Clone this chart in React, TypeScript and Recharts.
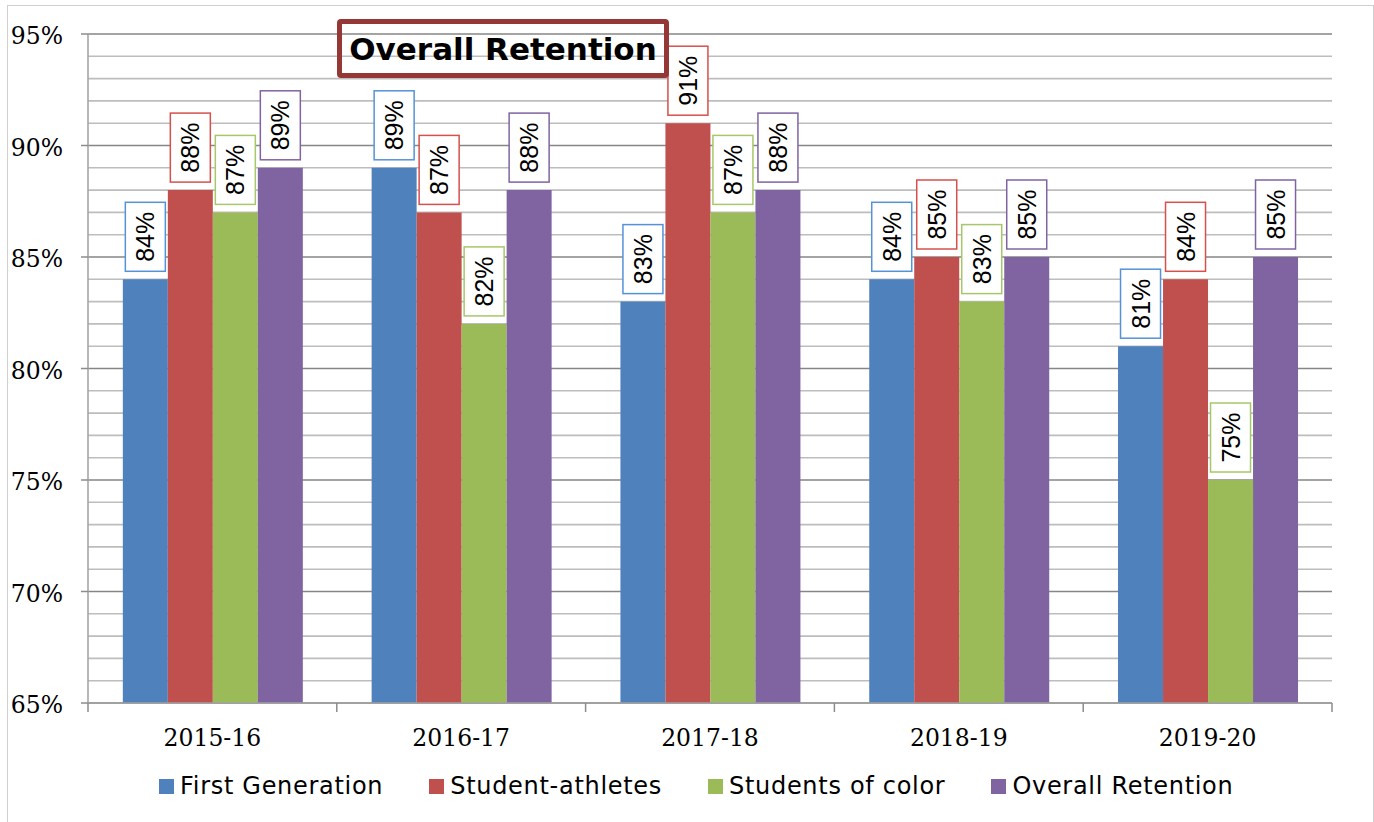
import React from "react";
import { BarChart, Bar, XAxis, YAxis, CartesianGrid, LabelList } from "recharts";

const categories = ["2015-16", "2016-17", "2017-18", "2018-19", "2019-20"];
const firstGeneration = [84, 89, 83, 84, 81];
const studentAthletes = [88, 87, 91, 85, 84];
const studentsOfColor = [87, 82, 87, 83, 75];
const overallRetention = [89, 88, 88, 85, 85];
const majorTicks = [65, 70, 75, 80, 85, 90, 95];
const allTicks = [65, 66, 67, 68, 69, 70, 71, 72, 73, 74, 75, 76, 77, 78, 79, 80, 81, 82, 83, 84, 85, 86, 87, 88, 89, 90, 91, 92, 93, 94, 95];

const seriesDefs = [
  { key: "fg", name: "First Generation", values: firstGeneration, color: "#4F81BD", box: "#5592D8" },
  { key: "sa", name: "Student-athletes", values: studentAthletes, color: "#C0504D", box: "#D6504C" },
  { key: "sc", name: "Students of color", values: studentsOfColor, color: "#9BBB59", box: "#A6C86A" },
  { key: "or", name: "Overall Retention", values: overallRetention, color: "#8064A2", box: "#8064A2" },
];

const data = categories.map((c, i) => {
  const row: any = { cat: c };
  seriesDefs.forEach((s) => (row[s.key] = s.values[i]));
  return row;
});

const W = 1374;
const H = 822;
const M = { top: 34, right: 42, left: 8, bottom: 59 };
const YW = 80;
const BAND = (W - M.left - YW - M.right) / categories.length;

const XTick = (props: any) => {
  const { x, y, payload, index } = props;
  const half = BAND / 2;
  return (
    <g>
      <line x1={x - half} x2={x - half} y1={y} y2={y + 9} stroke="#8C8C8C" strokeWidth={1.5} />
      {index === categories.length - 1 && (
        <line x1={x + half} x2={x + half} y1={y} y2={y + 9} stroke="#8C8C8C" strokeWidth={1.5} />
      )}
      <text x={x} y={y + 43} textAnchor="middle" fontFamily="DejaVu Serif" fontSize={23.5} fill="#000">
        {payload.value}
      </text>
    </g>
  );
};

const YTick = (props: any) => {
  const { x, y, payload } = props;
  const v = Number(payload.value);
  if (!majorTicks.includes(v)) return <g />;
  return (
    <g>
      <line x1={x - 7} x2={x} y1={y} y2={y} stroke="#8C8C8C" strokeWidth={1.5} />
      <text x={x - 25} y={y + 2} textAnchor="end" dominantBaseline="central" fontFamily="DejaVu Serif" fontSize={23.5} fill="#000">
        {v}%
      </text>
    </g>
  );
};

const GridLine = (props: any) => {
  const { x1, x2, y1, y2, index } = props;
  const major = index % 5 === 0;
  return (
    <line
      x1={x1}
      x2={x2}
      y1={y1}
      y2={y2}
      stroke={major ? "#868686" : "#BDBDBD"}
      strokeWidth={1.6}
    />
  );
};

const makeLabel = (stroke: string) => (props: any) => {
  const { x, y, width, value } = props;
  const cx = Number(x) + Number(width) / 2;
  const bw = 40;
  const bh = 69;
  const top = Number(y) - 8 - bh;
  const cy = top + bh / 2;
  return (
    <g>
      <rect x={cx - bw / 2} y={top} width={bw} height={bh} fill="#fff" stroke={stroke} strokeWidth={1.5} />
      <text
        x={cx}
        y={cy}
        transform={`rotate(-90, ${cx}, ${cy})`}
        textAnchor="middle"
        dominantBaseline="central"
        fontFamily="Liberation Sans"
        fontSize={25}
        fill="#000"
      >
        {value}%
      </text>
    </g>
  );
};

export default function App() {
  return (
    <div style={{ position: "absolute", left: 0, top: 0, width: W, height: H, background: "#fff", overflow: "hidden" }}>
      <div
        style={{
          position: "absolute",
          left: 7,
          top: 5,
          width: 1367,
          height: H + 20,
          borderLeft: "1px solid #D0D0D0",
          borderTop: "1px solid #D0D0D0",
          borderRight: "1px solid #D0D0D0",
          boxSizing: "border-box",
        }}
      />
      <BarChart width={W} height={H} data={data} margin={M} barCategoryGap="14%" barGap={0}>
        <CartesianGrid vertical={false} horizontal={(p: any) => <GridLine {...p} />} />
        <XAxis
          dataKey="cat"
          height={60}
          tickLine={false}
          tickSize={0}
          tickMargin={0}
          axisLine={{ stroke: "#A0A0A0", strokeWidth: 1.5 }}
          tick={<XTick />}
          interval={0}
        />
        <YAxis
          type="number"
          domain={[65, 95]}
          ticks={allTicks}
          width={YW}
          tickSize={0}
          tickMargin={0}
          tickLine={false}
          axisLine={{ stroke: "#A0A0A0", strokeWidth: 1.5 }}
          tick={<YTick />}
          interval={0}
        />
        {seriesDefs.map((s) => (
          <Bar key={s.key} dataKey={s.key} name={s.name} fill={s.color} isAnimationActive={false}>
            <LabelList dataKey={s.key} content={makeLabel(s.box)} />
          </Bar>
        ))}
      </BarChart>
      <div
        style={{
          position: "absolute",
          left: 337,
          top: 19,
          width: 332,
          height: 59,
          boxSizing: "border-box",
          border: "5px solid #953735",
          borderRadius: 4,
          display: "flex",
          alignItems: "center",
          justifyContent: "center",
          fontFamily: "DejaVu Sans",
          fontWeight: "bold",
          fontSize: 31,
          color: "#000",
          whiteSpace: "nowrap",
        }}
      >
        Overall Retention
      </div>
      <div
        style={{
          position: "absolute",
          left: 159,
          top: 772,
          display: "flex",
          alignItems: "center",
          fontFamily: "DejaVu Sans",
          fontSize: 24,
          letterSpacing: 0.7,
          color: "#000",
          whiteSpace: "nowrap",
        }}
      >
        {seriesDefs.map((s, i) => (
          <div key={s.key} style={{ display: "flex", alignItems: "center", marginRight: i < seriesDefs.length - 1 ? 46 : 0 }}>
            <div style={{ width: 15, height: 15, background: s.color, marginRight: 6 }} />
            <span>{s.name}</span>
          </div>
        ))}
      </div>
    </div>
  );
}
